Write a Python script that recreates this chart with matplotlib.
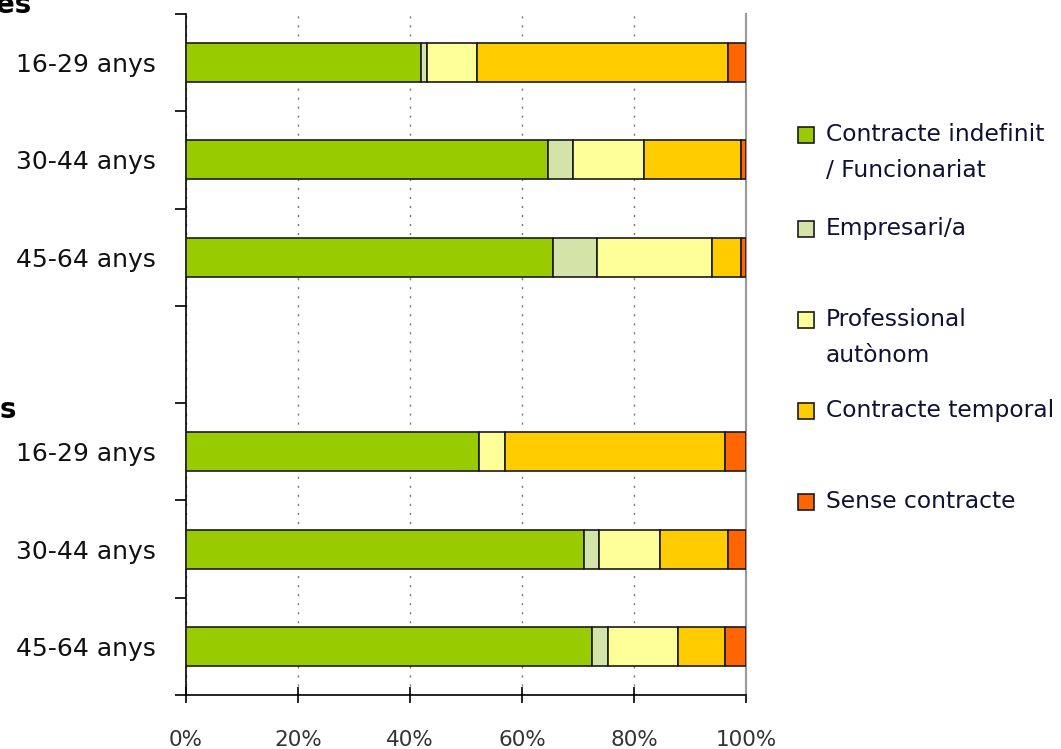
import numpy as np
import matplotlib

matplotlib.use("Agg")
import matplotlib.pyplot as plt
from matplotlib.patches import Rectangle

# Data (percent of employed people by contract type)
groups = ["Dones", "Homes"]
ages = ["16-29 anys", "30-44 anys", "45-64 anys"]
series = [
    "Contracte indefinit\n/ Funcionariat",
    "Empresari/a",
    "Professional\nautònom",
    "Contracte temporal",
    "Sense contracte",
]
colors = ["#99CC00", "#D4E4A8", "#FFFF99", "#FFCC00", "#FF6600"]

dones = np.array([
    [42.0, 1.0, 8.9, 44.9, 3.2],
    [64.6, 4.5, 12.7, 17.3, 0.9],
    [65.5, 7.9, 20.6, 5.1, 0.9],
])
homes = np.array([
    [52.3, 0.0, 4.7, 39.3, 3.7],
    [71.0, 2.8, 10.8, 12.2, 3.2],
    [72.5, 2.8, 12.6, 8.4, 3.7],
])

W, H = 1061, 749
fig = plt.figure(figsize=(W / 100, H / 100), dpi=100)
ax = fig.add_axes([186 / W, 1 - 695 / H, (746 - 186) / W, (695 - 14) / H])

# one empty slot between the two groups
n = len(ages)
ypos = np.concatenate([np.arange(n), np.arange(n) + n + 1])
data = np.vstack([dones, homes])

left = np.zeros(len(ypos))
for j, name in enumerate(series):
    ax.barh(ypos, data[:, j], left=left, height=0.4, color=colors[j],
            edgecolor="#1a1a1a", linewidth=1.2, zorder=3)
    left += data[:, j]

ax.set_xlim(0, 100)
ax.set_ylim(2 * n + 0.5, -0.5)

ax.set_xticks(np.arange(0, 101, 20))
ax.set_xticklabels([f"{v}%" for v in range(0, 101, 20)], fontsize=15.5, color="#333333")
ax.tick_params(axis="x", direction="inout", length=12, width=1.2, pad=19)

ax.set_yticks(ypos)
ax.set_yticklabels(ages * 2, fontsize=18, color="#111111")
ax.tick_params(axis="y", which="major", length=0, pad=22)
ax.set_yticks(np.arange(-0.5, 2 * n + 1, 1), minor=True)
ax.tick_params(axis="y", which="minor", direction="out", length=8, width=1.2)

ax.grid(axis="x", color="#777777", linestyle=(0, (1.5, 5)), linewidth=1, zorder=0)

ax.spines["top"].set_visible(False)
ax.spines["right"].set_color("#999999")
ax.spines["right"].set_linewidth(1.5)
ax.spines["left"].set_linewidth(1.2)
ax.spines["bottom"].set_linewidth(1.2)

# group titles, partly cut off by the left edge like in the source image
fig.text(32 / W, 1 - 13 / H, groups[0], ha="right", va="baseline",
         fontsize=20, fontweight="bold")
fig.text(17 / W, 1 - 418 / H, groups[1], ha="right", va="baseline",
         fontsize=20, fontweight="bold")

# legend drawn by hand to match the irregular spacing
legend_y = [135, 229, 320, 411, 502]
for name, c, yy in zip(series, colors, legend_y):
    fig.patches.append(Rectangle(((798) / W, 1 - (yy + 8) / H), 16 / W, 16 / H,
                                 transform=fig.transFigure, facecolor=c,
                                 edgecolor="#1a1a1a", linewidth=1.2))
    fig.text(826 / W, 1 - (yy - 12) / H, name, ha="left", va="top",
             fontsize=16.8, color="#111133", linespacing=1.7)

plt.savefig("out.png", dpi=100)
